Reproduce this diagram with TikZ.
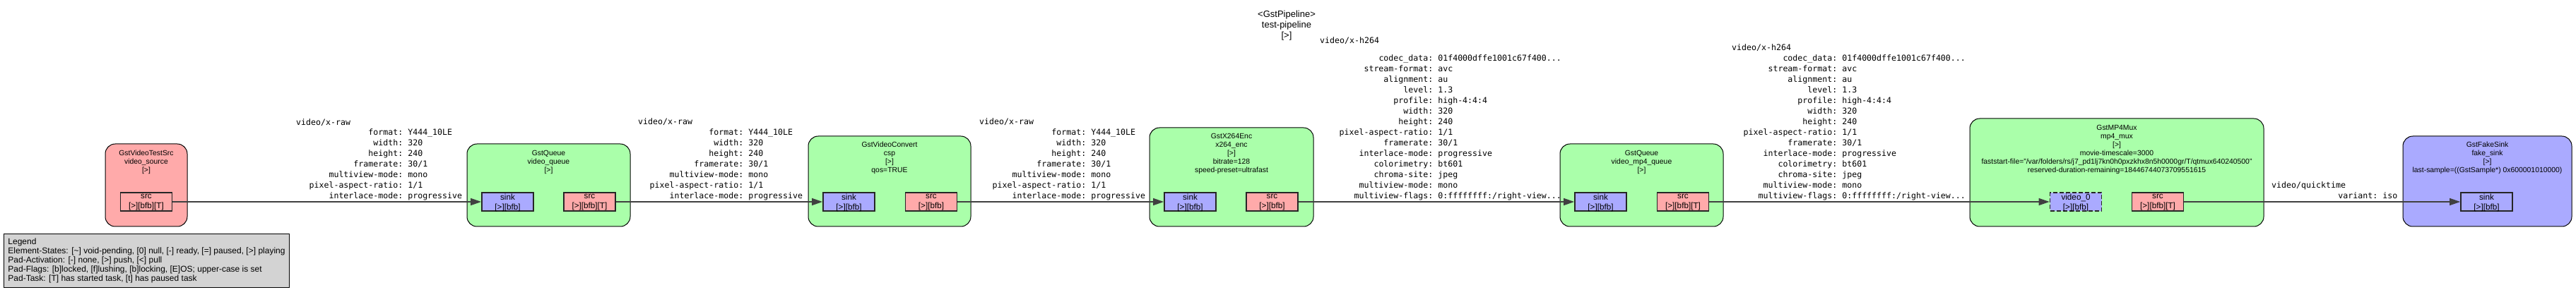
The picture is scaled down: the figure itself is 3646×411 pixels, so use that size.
\documentclass[tikz,border=0pt]{standalone}
\usepackage{fontspec}
\setmainfont{Liberation Sans}
\newfontfamily\capsmono{DejaVu Sans Mono}
\usetikzlibrary{matrix,arrows.meta}

\definecolor{elemfill}{HTML}{AAFFAA}
\definecolor{srcfill}{HTML}{FFAAAA}
\definecolor{sinkfill}{HTML}{AAAAFF}
\definecolor{legendfill}{HTML}{D3D3D3}

\tikzset{
  elem/.style={draw=black, line width=1pt, rounded corners=14pt, inner sep=0pt},
  elemtext/.style={align=center, inner sep=0pt, font=\fontsize{10.4}{12}\selectfont},
  pad/.style={draw=black!85, line width=1.6pt, minimum width=73pt, minimum height=26pt, inner sep=0pt},
  padtext/.style={align=center, inner sep=0pt, font=\fontsize{11.7}{14}\selectfont},
  link/.style={draw=black!75, line width=1.4pt, -{Triangle[length=15pt,width=10pt]}},
  capshead/.style={anchor=base west, inner sep=0pt, font=\capsmono\fontsize{11.6}{15}\selectfont},
  capsmat/.style={%
    matrix of nodes,
    column sep=7pt,
    row sep=0pt,
    inner sep=0pt,
    nodes={inner sep=0pt, text height=10.5pt, text depth=4.5pt, font=\capsmono\fontsize{11.6}{15}\selectfont},
    column 1/.style={anchor=base east},
    column 2/.style={anchor=base west}
  },
  legendbox/.style={draw=black, line width=1pt, fill=legendfill, align=left, inner sep=0pt,
    minimum width=404pt, minimum height=76pt, font=\fontsize{12}{13}\selectfont},
  titletext/.style={align=center, inner sep=0pt, font=\fontsize{13}{15}\selectfont}
}

\begin{document}
\begin{tikzpicture}[x=1pt, y=-1pt]
  \useasboundingbox (0,0) rectangle (3646,411);

  \node[titletext] (pipeline) at (1821,36) {<GstPipeline>\\test-pipeline\\{[>]}};

  \node[elem, fill=srcfill,  minimum width=116pt, minimum height=117pt] (vsrc)   at (207,262.5)  {};
  \node[elem, fill=elemfill, minimum width=231pt, minimum height=117pt] (vqueue) at (776.5,262.5) {};
  \node[elem, fill=elemfill, minimum width=230pt, minimum height=128pt] (csp)    at (1259,257)    {};
  \node[elem, fill=elemfill, minimum width=232pt, minimum height=140pt] (enc)    at (1743,251)    {};
  \node[elem, fill=elemfill, minimum width=231pt, minimum height=117pt] (mqueue) at (2323.5,262.5) {};
  \node[elem, fill=elemfill, minimum width=416pt, minimum height=153pt] (mux)    at (2996,244.5)  {};
  \node[elem, fill=sinkfill, minimum width=239pt, minimum height=128pt] (fsink)  at (3520.5,257)  {};

  \node[elemtext] (vsrc-l)   at (207,230)    {GstVideoTestSrc\\video\_source\\{[>]}};
  \node[elemtext] (vqueue-l) at (776.5,230)  {GstQueue\\video\_queue\\{[>]}};
  \node[elemtext] (csp-l)    at (1259,223.5) {GstVideoConvert\\csp\\{[>]}\\qos=TRUE};
  \node[elemtext] (enc-l)    at (1743,218)   {GstX264Enc\\x264\_enc\\{[>]}\\bitrate=128\\speed-preset=ultrafast};
  \node[elemtext] (mqueue-l) at (2323.5,230) {GstQueue\\video\_mp4\_queue\\{[>]}};
  \node[elemtext] (mux-l)    at (2996,211.75) {GstMP4Mux\\mp4\_mux\\{[>]}\\movie-timescale=3000\\faststart-file="/var/folders/rs/j7\_pd1lj7kn0h0pxzkhx8n5h0000gr/T/qtmux640240500"\\reserved-duration-remaining=18446744073709551615};
  \node[elemtext] (fsink-l)  at (3520.5,223.5) {GstFakeSink\\fake\_sink\\{[>]}\\last-sample=((GstSample*) 0x600001010000)};

  \node[pad, fill=srcfill]  (vsrc-src)     at (207,286)    {};
  \node[pad, fill=sinkfill] (vqueue-sink)  at (718.5,286)  {};
  \node[pad, fill=srcfill]  (vqueue-src)   at (834.5,286)  {};
  \node[pad, fill=sinkfill] (csp-sink)     at (1201.5,286) {};
  \node[pad, fill=srcfill]  (csp-src)      at (1318,286)   {};
  \node[pad, fill=sinkfill] (enc-sink)     at (1684.5,286) {};
  \node[pad, fill=srcfill]  (enc-src)      at (1800.5,286) {};
  \node[pad, fill=sinkfill] (mqueue-sink)  at (2265.5,286) {};
  \node[pad, fill=srcfill]  (mqueue-src)   at (2382,286)   {};
  \node[pad, fill=sinkfill, dash pattern=on 6pt off 3pt] (mux-video) at (2938,286) {};
  \node[pad, fill=srcfill]  (mux-src)      at (3054,286)   {};
  \node[pad, fill=sinkfill] (fsink-sink)   at (3519.5,286) {};

  \node[padtext] (vsrc-src-l)    at (207,287)    {src\\{[>][bfb][T]}};
  \node[padtext] (vqueue-sink-l) at (718.5,287)  {sink\\{[>][bfb]}};
  \node[padtext] (vqueue-src-l)  at (834.5,287)  {src\\{[>][bfb][T]}};
  \node[padtext] (csp-sink-l)    at (1201.5,287) {sink\\{[>][bfb]}};
  \node[padtext] (csp-src-l)     at (1318,287)   {src\\{[>][bfb]}};
  \node[padtext] (enc-sink-l)    at (1684.5,287) {sink\\{[>][bfb]}};
  \node[padtext] (enc-src-l)     at (1800.5,287) {src\\{[>][bfb]}};
  \node[padtext] (mqueue-sink-l) at (2265.5,287) {sink\\{[>][bfb]}};
  \node[padtext] (mqueue-src-l)  at (2382,287)   {src\\{[>][bfb][T]}};
  \node[padtext] (mux-video-l)   at (2938,287)   {video\_0\\{[>][bfb]}};
  \node[padtext] (mux-src-l)     at (3054,287)   {src\\{[>][bfb][T]}};
  \node[padtext] (fsink-sink-l)  at (3519.5,287) {sink\\{[>][bfb]}};

  \path (vsrc-src)   edge[link] (vqueue-sink)
        (vqueue-src) edge[link] (csp-sink)
        (csp-src)    edge[link] (enc-sink)
        (enc-src)    edge[link] (mqueue-sink)
        (mqueue-src) edge[link] (mux-video)
        (mux-src)    edge[link] (fsink-sink);

  \node[capshead] (caps1-head) at (419,178) {video/x-raw};
  \matrix[capsmat, matrix anchor=caps1-1-1.base east] (caps1) at (570.5,192) {
    format: & Y444\_10LE \\
    width: & 320 \\
    height: & 240 \\
    framerate: & 30/1 \\
    multiview-mode: & mono \\
    pixel-aspect-ratio: & 1/1 \\
    interlace-mode: & progressive \\
  };

  \node[capshead] (caps2-head) at (903,177) {video/x-raw};
  \matrix[capsmat, matrix anchor=caps2-1-1.base east] (caps2) at (1052.5,192) {
    format: & Y444\_10LE \\
    width: & 320 \\
    height: & 240 \\
    framerate: & 30/1 \\
    multiview-mode: & mono \\
    pixel-aspect-ratio: & 1/1 \\
    interlace-mode: & progressive \\
  };

  \node[capshead] (caps3-head) at (1386,177) {video/x-raw};
  \matrix[capsmat, matrix anchor=caps3-1-1.base east] (caps3) at (1537.5,192) {
    format: & Y444\_10LE \\
    width: & 320 \\
    height: & 240 \\
    framerate: & 30/1 \\
    multiview-mode: & mono \\
    pixel-aspect-ratio: & 1/1 \\
    interlace-mode: & progressive \\
  };

  \node[capshead] (caps4-head) at (1868,62) {video/x-h264};
  \matrix[capsmat, matrix anchor=caps4-1-1.base east] (caps4) at (2028.5,87) {
    codec\_data: & 01f4000dffe1001c67f400... \\
    stream-format: & avc \\
    alignment: & au \\
    level: & 1.3 \\
    profile: & high-4:4:4 \\
    width: & 320 \\
    height: & 240 \\
    pixel-aspect-ratio: & 1/1 \\
    framerate: & 30/1 \\
    interlace-mode: & progressive \\
    colorimetry: & bt601 \\
    chroma-site: & jpeg \\
    multiview-mode: & mono \\
    multiview-flags: & 0:ffffffff:/right-view... \\
  };

  \node[capshead] (caps5-head) at (2451,72) {video/x-h264};
  \matrix[capsmat, matrix anchor=caps5-1-1.base east] (caps5) at (2600.5,87) {
    codec\_data: & 01f4000dffe1001c67f400... \\
    stream-format: & avc \\
    alignment: & au \\
    level: & 1.3 \\
    profile: & high-4:4:4 \\
    width: & 320 \\
    height: & 240 \\
    pixel-aspect-ratio: & 1/1 \\
    framerate: & 30/1 \\
    interlace-mode: & progressive \\
    colorimetry: & bt601 \\
    chroma-site: & jpeg \\
    multiview-mode: & mono \\
    multiview-flags: & 0:ffffffff:/right-view... \\
  };

  \node[capshead] (caps6-head) at (3215,267) {video/quicktime};
  \matrix[capsmat, matrix anchor=caps6-1-1.base east] (caps6) at (3365.5,282) {
    variant: & iso \\
  };

  \node[legendbox, anchor=north west] (legend) at (5,331) {Legend\\Element-States: [\textasciitilde] void-pending, [0] null, [-] ready, [=] paused, [>] playing\\Pad-Activation: [-] none, [>] push, [<] pull\\Pad-Flags: [b]locked, [f]lushing, [b]locking, [E]OS; upper-case is set\\Pad-Task: [T] has started task, [t] has paused task};
\end{tikzpicture}
\end{document}
